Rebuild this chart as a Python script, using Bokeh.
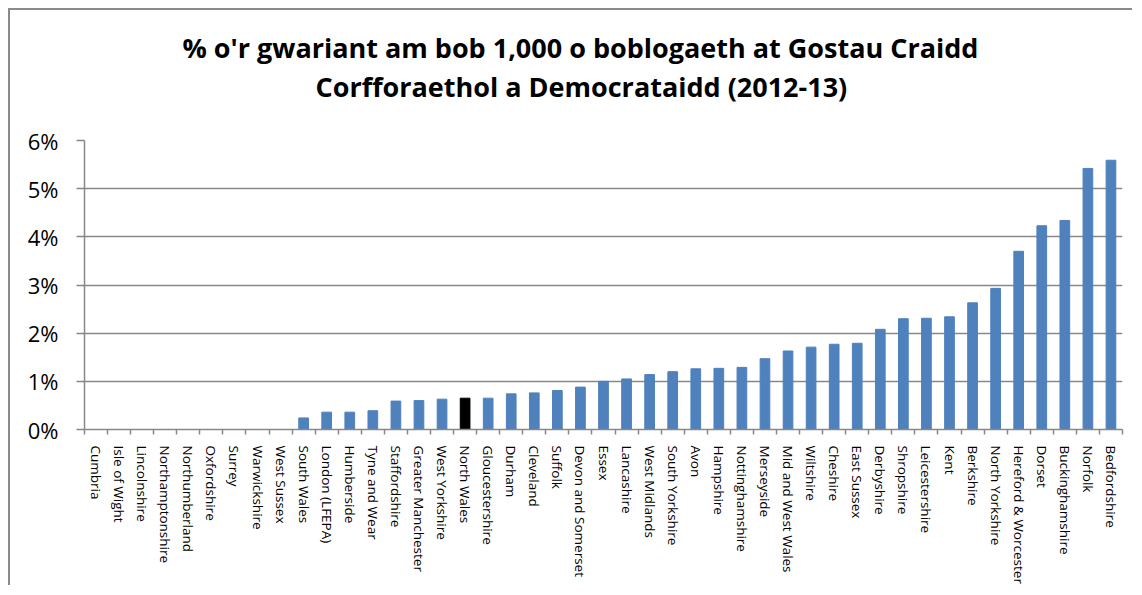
from bokeh.plotting import figure
from bokeh.models import Range1d, FixedTicker, Title, ColumnDataSource, LinearAxis
from bokeh.embed import file_html
from bokeh.resources import INLINE

title_lines = [
    "% o'r gwariant am bob 1,000 o boblogaeth at Gostau Craidd",
    "Corfforaethol a Democrataidd (2012-13)",
]

categories = [
    "Cumbria", "Isle of Wight", "Lincolnshire", "Northamptonshire", "Northumberland",
    "Oxfordshire", "Surrey", "Warwickshire", "West Sussex", "South Wales",
    "London (LFEPA)", "Humberside", "Tyne and Wear", "Staffordshire", "Greater Manchester",
    "West Yorkshire", "North Wales", "Gloucestershire", "Durham", "Cleveland",
    "Suffolk", "Devon and Somerset", "Essex", "Lancashire", "West Midlands",
    "South Yorkshire", "Avon", "Hampshire", "Nottinghamshire", "Merseyside",
    "Mid and West Wales", "Wiltshire", "Cheshire", "East Sussex", "Derbyshire",
    "Shropshire", "Leicestershire", "Kent", "Berkshire", "North Yorkshire",
    "Hereford & Worcester", "Dorset", "Buckinghamshire", "Norfolk", "Bedfordshire",
]

values = [
    0.0, 0.0, 0.0, 0.0, 0.0,
    0.0, 0.0, 0.0, 0.0, 0.24,
    0.36, 0.36, 0.39, 0.59, 0.60,
    0.63, 0.65, 0.65, 0.74, 0.76,
    0.81, 0.88, 1.00, 1.05, 1.14,
    1.20, 1.26, 1.27, 1.29, 1.47,
    1.63, 1.71, 1.77, 1.79, 2.08,
    2.30, 2.31, 2.34, 2.63, 2.93,
    3.70, 4.23, 4.34, 5.42, 5.59,
]

highlight = "North Wales"
y_ticks = [0, 1, 2, 3, 4, 5, 6]
y_tick_labels = ["0%", "1%", "2%", "3%", "4%", "5%", "6%"]

BLUE = "#4F81BD"
GRID = "#888888"
FONT = "Open Sans"

n = len(categories)
centers = [i + 0.5 for i in range(n)]
colors = ["#000000" if c == highlight else BLUE for c in categories]
src = ColumnDataSource(dict(x=centers, top=values, color=colors, name=categories))

p = figure(
    width=1124, height=577,
    x_range=Range1d(0, n), y_range=Range1d(0, 6),
    output_backend="svg", toolbar_location=None,
    min_border_left=74, min_border_right=12, min_border_top=130, min_border_bottom=158,
    x_axis_location=None, y_axis_location=None,
)
p.outline_line_color = None
p.background_fill_color = "white"
p.border_fill_color = "white"
p.styles = {
    "margin-left": "8px", "margin-top": "8px",
    "border-left": "2px solid #8a8a8a", "border-top": "2px solid #8a8a8a",
}

p.vbar(x="x", top="top", width=0.42, bottom=0, color="color", source=src)

yaxis = LinearAxis(ticker=FixedTicker(ticks=y_ticks))
yaxis.major_label_overrides = {t: l for t, l in zip(y_ticks, y_tick_labels)}
yaxis.major_label_text_font = FONT
yaxis.major_label_text_font_size = "22px"
yaxis.major_label_text_color = "#000000"
yaxis.major_label_standoff = 18
yaxis.major_tick_out = 8
yaxis.major_tick_in = 0
yaxis.minor_tick_line_color = None
yaxis.axis_line_color = GRID
yaxis.major_tick_line_color = GRID
yaxis.axis_line_width = 1.5
yaxis.major_tick_line_width = 1.5
p.add_layout(yaxis, "left")

xaxis = LinearAxis(ticker=FixedTicker(ticks=centers, minor_ticks=list(range(n + 1))))
xaxis.major_label_overrides = {c: name for c, name in zip(centers, categories)}
xaxis.major_label_orientation = "vertical"
xaxis.major_label_text_font = FONT
xaxis.major_label_text_font_size = "13.5px"
xaxis.major_label_text_color = "#000000"
xaxis.major_label_standoff = 10
xaxis.major_tick_line_color = None
xaxis.minor_tick_out = 5
xaxis.minor_tick_in = 0
xaxis.minor_tick_line_color = GRID
xaxis.minor_tick_line_width = 1.5
xaxis.axis_line_color = GRID
xaxis.axis_line_width = 1.5
p.add_layout(xaxis, "below")

p.xgrid.visible = False
p.ygrid.ticker = FixedTicker(ticks=y_ticks)
p.ygrid.grid_line_color = GRID
p.ygrid.grid_line_width = 1.5

t2 = Title(text=title_lines[1], align="left", offset=231, text_font=FONT,
           text_font_style="bold", text_font_size="27px", text_color="#000000",
           standoff=72)
t1 = Title(text=title_lines[0], align="left", offset=98, text_font=FONT,
           text_font_style="bold", text_font_size="27px", text_color="#000000",
           standoff=-72)
p.add_layout(t2, "above")
p.add_layout(t1, "above")

open("out.html", "w").write(file_html(p, INLINE))
